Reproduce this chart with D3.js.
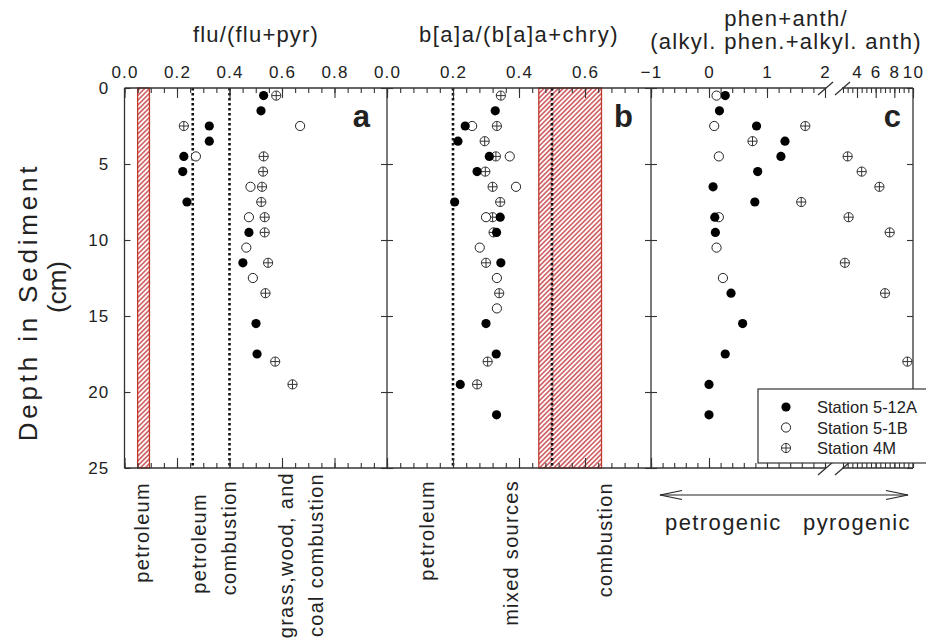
<!DOCTYPE html>
<html>
<head>
<meta charset="utf-8">
<script src="https://cdn.jsdelivr.net/npm/d3@7"></script>
<style>
  body { margin: 0; background: #fff; }
  text { font-family: "Liberation Sans", Arial, sans-serif; fill: #222; }
</style>
</head>
<body>
<div id="chart"></div>
<script>
// ---- data: [depth (cm), ratio] ----
// panel a: flu/(flu+pyr)
var fluPyr512A = [[0.5,0.53],[1.5,0.52],[2.5,0.323],[3.5,0.323],[4.5,0.226],[5.5,0.222],[7.5,0.238],[9.5,0.474],[11.5,0.451],[15.5,0.501],[17.5,0.505]]
var fluPyr51B  = [[2.5,0.669],[4.5,0.272],[6.5,0.48],[8.5,0.474],[10.5,0.464],[12.5,0.489]]
var fluPyr4M   = [[0.5,0.578],[2.5,0.226],[4.5,0.53],[5.5,0.528],[6.5,0.524],[7.5,0.521],[8.5,0.534],[9.5,0.534],[11.5,0.547],[13.5,0.537],[18,0.574],[19.5,0.64]]
// panel b: b[a]a/(b[a]a+chry)
var baaChry512A = [[1.5,0.328],[2.5,0.237],[3.5,0.215],[4.5,0.31],[5.5,0.273],[7.5,0.205],[8.5,0.343],[9.5,0.332],[11.5,0.345],[15.5,0.3],[17.5,0.331],[19.5,0.222],[21.5,0.332]]
var baaChry51B  = [[2.5,0.258],[4.5,0.372],[6.5,0.391],[8.5,0.3],[10.5,0.281],[12.5,0.333],[14.5,0.333]]
var baaChry4M   = [[0.5,0.345],[2.5,0.333],[3.5,0.296],[4.5,0.33],[5.5,0.298],[6.5,0.32],[7.5,0.343],[8.5,0.32],[9.5,0.323],[11.5,0.3],[13.5,0.34],[18,0.305],[19.5,0.273]]
// panel c: phen+anth/(alkyl. phen.+alkyl. anth)
var phenAnth512A = [[0.5,0.28],[1.5,0.18],[2.5,0.82],[3.5,1.31],[4.5,1.24],[5.5,0.84],[6.5,0.07],[7.5,0.79],[8.5,0.1],[9.5,0.11],[13.5,0.38],[15.5,0.58],[17.5,0.28],[19.5,0.0],[21.5,0.0]]
var phenAnth51B  = [[0.5,0.13],[2.5,0.09],[4.5,0.17],[8.5,0.17],[10.5,0.13],[12.5,0.24]]
var phenAnth4M   = [[2.5,1.66],[3.5,0.75],[4.5,3.0],[5.5,4.5],[6.5,6.4],[7.5,1.59],[8.5,3.1],[9.5,7.5],[11.5,2.7],[13.5,7.0],[18,9.4]]

var stations = ['Station 5-12A', 'Station 5-1B', 'Station 4M']
var markerTypes = ['filled', 'open', 'crossed']

// source ranges / reference lines
var fluPyrPetroleum = [0.05, 0.095]
var fluPyrLines = [0.26, 0.4]
var baaCombustion = [0.46, 0.65]
var baaLines = [0.2, 0.5]

// ticks
var aMajor = [0, 0.2, 0.4, 0.6, 0.8, 1.0], aLabels = [0, 0.2, 0.4, 0.6, 0.8]
var bMajor = [0, 0.2, 0.4, 0.6, 0.8], bLabels = [0, 0.2, 0.4, 0.6]
var cLoMajor = [-1, 0, 1, 2], cHiMajor = [4, 6, 8, 10]
var depthTicks = [0, 5, 10, 15, 20, 25]

// ---- layout ----
var svg = d3.select('#chart').append('svg')
    .attr('width', 926).attr('height', 642)

var y = d3.scaleLinear().domain([0, 25]).range([88, 468])
var xa = d3.scaleLinear().domain([0, 1]).range([124.5, 387])
var xb = d3.scaleLinear().domain([0, 0.8]).range([387, 651])
var xcLo = d3.scaleLinear().domain([-1, 2]).range([651, 825])
var xcHi = d3.scaleLinear().domain([2.5, 10]).range([843, 913])
function xc(v) { return v <= 2.2 ? xcLo(v) : xcHi(v) }

var frameColor = '#333'
var red = '#c8464a'

// hatch pattern for the source ranges
var defs = svg.append('defs')
var pat = defs.append('pattern').attr('id', 'hatch')
    .attr('patternUnits', 'userSpaceOnUse')
    .attr('width', 3.4).attr('height', 3.4)
    .attr('patternTransform', 'rotate(45)')
pat.append('rect').attr('width', 3.4).attr('height', 3.4).attr('fill', '#fff')
pat.append('line').attr('x1', 1.7).attr('x2', 1.7).attr('y1', 0).attr('y2', 3.4)
    .attr('stroke', red).attr('stroke-width', 1.4)

function rangeBar(scale, r) {
    svg.append('rect')
        .attr('x', scale(r[0])).attr('y', y(0))
        .attr('width', scale(r[1]) - scale(r[0]))
        .attr('height', y(25) - y(0))
        .attr('fill', 'url(#hatch)')
        .attr('stroke', '#c0392b').attr('stroke-width', 1.3)
}
rangeBar(xa, fluPyrPetroleum)
rangeBar(xb, baaCombustion)

function dotted(scale, v) {
    svg.append('line')
        .attr('x1', scale(v)).attr('x2', scale(v))
        .attr('y1', y(0)).attr('y2', y(25))
        .attr('stroke', '#111').attr('stroke-width', 2.6)
        .attr('stroke-dasharray', '2.4,2.6')
}
fluPyrLines.forEach(v => dotted(xa, v))
baaLines.forEach(v => dotted(xb, v))

// ---- axes ----
function clean(g) { g.select('.domain').remove() }

function xAxes(scale, major, minor, labels, fmt) {
    var f = d => labels.includes(d) ? fmt(d) : ''
    svg.append('g').attr('transform', `translate(0,${y(0)})`)
        .call(d3.axisTop(scale).tickValues(major).tickSize(-10).tickPadding(10).tickFormat(f))
        .call(clean)
    svg.append('g').attr('transform', `translate(0,${y(0)})`)
        .call(d3.axisTop(scale).tickValues(minor).tickSize(-5).tickFormat(''))
        .call(clean)
    svg.append('g').attr('transform', `translate(0,${y(25)})`)
        .call(d3.axisBottom(scale).tickValues(major).tickSize(-10).tickFormat(''))
        .call(clean)
    svg.append('g').attr('transform', `translate(0,${y(25)})`)
        .call(d3.axisBottom(scale).tickValues(minor).tickSize(-5).tickFormat(''))
        .call(clean)
}
var f1 = d3.format('.1f'), f0 = d3.format('d')
xAxes(xa, aMajor, d3.range(0, 1.001, 0.05), aLabels, f1)
xAxes(xb, bMajor, d3.range(0, 0.801, 0.04), bLabels, f1)
xAxes(xcLo, cLoMajor, d3.range(-1, 2.001, 0.2), cLoMajor, f0)
xAxes(xcHi, cHiMajor, d3.range(2.5, 10.001, 0.5), cHiMajor, f0)

// y ticks, inward on both sides of every panel
var panelEdges = [[124.5, 387], [387, 651], [651, 913]]
panelEdges.forEach(function (e, i) {
    svg.append('g').attr('transform', `translate(${e[0]},0)`)
        .call(d3.axisLeft(y).tickValues(depthTicks).tickSize(-6).tickPadding(15)
            .tickFormat(i == 0 ? f0 : ''))
        .call(clean)
    svg.append('g').attr('transform', `translate(${e[1]},0)`)
        .call(d3.axisRight(y).tickValues(depthTicks).tickSize(-6).tickFormat(''))
        .call(clean)
})

svg.selectAll('.tick line').attr('stroke', frameColor).attr('stroke-width', 1.1)
svg.selectAll('.tick text')
    .style('font-size', '17px').style('letter-spacing', '1.2px')
    .style('font-family', '"Liberation Sans", Arial, sans-serif').attr('fill', '#222')

// frame
var frame = svg.append('g').attr('stroke', frameColor).attr('stroke-width', 1.3).attr('fill', 'none')
;[124.5, 387, 651, 913].forEach(function (x) {
    frame.append('line').attr('x1', x).attr('x2', x).attr('y1', y(0)).attr('y2', y(25))
})
;[y(0), y(25)].forEach(function (yy) {
    frame.append('line').attr('x1', 124.5).attr('x2', 826).attr('y1', yy).attr('y2', yy)
    frame.append('line').attr('x1', 842).attr('x2', 913).attr('y1', yy).attr('y2', yy)
    frame.append('line').attr('x1', 818).attr('x2', 833).attr('y1', yy + 7).attr('y2', yy - 6)
    frame.append('line').attr('x1', 835).attr('x2', 850).attr('y1', yy + 7).attr('y2', yy - 6)
})

// ---- markers ----
function marker(g, type) {
    var r = 4.6
    if (type == 'filled') {
        g.append('circle').attr('r', r).attr('fill', '#000')
    } else if (type == 'open') {
        g.append('circle').attr('r', r).attr('fill', '#fff').attr('stroke', '#222').attr('stroke-width', 1)
    } else {
        g.append('circle').attr('r', r).attr('fill', '#fff').attr('stroke', '#333').attr('stroke-width', 1)
        g.append('line').attr('x1', -r).attr('x2', r).attr('stroke', '#333').attr('stroke-width', 1)
        g.append('line').attr('y1', -r).attr('y2', r).attr('stroke', '#333').attr('stroke-width', 1)
    }
}

function plotSeries(data, scale, type) {
    data.forEach(function (d) {
        var g = svg.append('g').attr('transform', `translate(${scale(d[1])},${y(d[0])})`)
        marker(g, type)
    })
}
// draw crossed first, then open, then filled (filled on top)
plotSeries(fluPyr4M, xa, 'crossed'); plotSeries(fluPyr51B, xa, 'open'); plotSeries(fluPyr512A, xa, 'filled')
plotSeries(baaChry4M, xb, 'crossed'); plotSeries(baaChry51B, xb, 'open'); plotSeries(baaChry512A, xb, 'filled')
plotSeries(phenAnth4M, xc, 'crossed'); plotSeries(phenAnth51B, xc, 'open'); plotSeries(phenAnth512A, xc, 'filled')

// ---- texts ----
function label(x, yy, txt, size, ls, anchor) {
    return svg.append('text').attr('x', x).attr('y', yy)
        .attr('text-anchor', anchor || 'middle')
        .style('font-size', size + 'px').style('letter-spacing', ls + 'px')
        .text(txt)
}
label(256, 42, 'flu/(flu+pyr)', 22, 1.2)
label(519, 42, 'b[a]a/(b[a]a+chry)', 22, 1.5)
label(786, 25.5, 'phen+anth/', 22, 1.3)
label(786, 48.5, '(alkyl. phen.+alkyl. anth)', 22, 1.3)

// panel letters
;[['a', 370], ['b', 633], ['c', 901]].forEach(function (p) {
    label(p[1], 127, p[0], 31, 0, 'end').style('font-weight', 'bold').attr('fill', '#111')
})

// y-axis title
svg.append('text').attr('transform', 'translate(37,302) rotate(-90)')
    .attr('text-anchor', 'middle').style('font-size', '26px').style('letter-spacing', '3.8px')
    .text('Depth in Sediment')
svg.append('text').attr('transform', 'translate(66,287) rotate(-90)')
    .attr('text-anchor', 'middle').style('font-size', '26px')
    .text('(cm)')

// source labels under panels a and b
var sourceLabels = [
    { text: 'petroleum', x: 149, top: 482 },
    { text: 'petroleum', x: 206, top: 493 },
    { text: 'combustion', x: 236, top: 480 },
    { text: 'grass,wood, and', x: 293, top: 472 },
    { text: 'coal combustion', x: 323, top: 473 },
    { text: 'petroleum', x: 434, top: 480 },
    { text: 'mixed sources', x: 518, top: 480 },
    { text: 'combustion', x: 612, top: 482 }
]
sourceLabels.forEach(function (s) {
    svg.append('text').attr('transform', `translate(${s.x},${s.top}) rotate(-90)`)
        .attr('text-anchor', 'end').style('font-size', '20px').style('letter-spacing', '1.3px')
        .text(s.text)
})

// petrogenic / pyrogenic arrow under panel c
var arrow = svg.append('g').attr('stroke', '#222').attr('stroke-width', 1.2).attr('fill', 'none')
arrow.append('line').attr('x1', 660).attr('x2', 908).attr('y1', 495).attr('y2', 495)
arrow.append('path').attr('d', 'M682,490.5 L660,495 L682,499.5')
arrow.append('path').attr('d', 'M886,490.5 L908,495 L886,499.5')
label(665, 530, 'petrogenic', 22, 1.4, 'start')
label(803, 530, 'pyrogenic', 22, 1.4, 'start')

// ---- legend ----
var legend = svg.append('g')
legend.append('rect').attr('x', 758).attr('y', 389).attr('width', 200).attr('height', 74)
    .attr('fill', '#fff').attr('stroke', frameColor).attr('stroke-width', 1.2)
stations.forEach(function (s, i) {
    var g = legend.append('g').attr('transform', `translate(786,${407 + i * 20.5})`)
    marker(g, markerTypes[i])
    legend.append('text').attr('x', 817).attr('y', 413 + i * 20.5)
        .style('font-size', '16.5px').text(s)
})
</script>
</body>
</html>
